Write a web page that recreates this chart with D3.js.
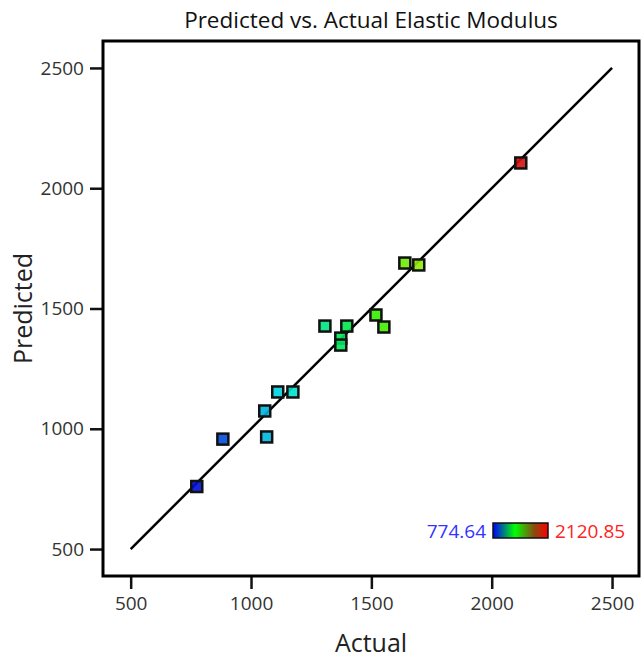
<!DOCTYPE html>
<html>
<head>
<meta charset="utf-8">
<script src="https://cdn.jsdelivr.net/npm/d3@7"></script>
<style>
  body { margin: 0; background: #fff; }
  svg text { font-family: "Open Sans", "Noto Sans", sans-serif; }
</style>
</head>
<body>
<div id="chart"></div>
<script>
// Actual vs predicted design points
const actual = [774.64, 883, 1065, 1057, 1111, 1174, 1307, 1398, 1373, 1373, 1519, 1552, 1639, 1697, 2120.85];
const predicted = [760, 957, 966, 1074, 1153, 1153, 1427, 1427, 1377, 1348, 1473, 1423, 1689, 1681, 2105];
const xTickValues = [500, 1000, 1500, 2000, 2500];
const yTickValues = [500, 1000, 1500, 2000, 2500];
const colorRange = [774.64, 2120.85];

const width = 641, height = 662,
  margin = {left: 103, top: 41, right: 2, bottom: 86};

const svg = d3.select('#chart').append('svg')
  .attr('width', width)
  .attr('height', height);

const x = d3.scaleLinear()
  .domain([385, 2612])
  .range([margin.left, width - margin.right]);

const y = d3.scaleLinear()
  .domain([388, 2612])
  .range([height - margin.bottom, margin.top]);

// point colours: blue -> green -> red by actual value
const mid = (colorRange[0] + colorRange[1]) / 2;
const pointColor = v => {
  if (v <= mid) {
    return d3.interpolateHsl('#0010d8', '#00e830')((v - colorRange[0]) / (mid - colorRange[0]));
  }
  let t = (v - mid) / (colorRange[1] - mid);
  return d3.interpolateHsl('#20f000', '#d81010')(Math.pow(t, 1.4));
};

// title
svg.append('text')
  .attr('x', (margin.left + width - margin.right) / 2)
  .attr('y', 28)
  .attr('text-anchor', 'middle')
  .attr('font-size', 22.5)
  .attr('fill', '#111')
  .text('Predicted vs. Actual Elastic Modulus');

// axes
const fmt = d3.format('d');
const xAxis = d3.axisBottom(x).tickValues(xTickValues).tickFormat(fmt).tickSize(13).tickPadding(8);
const yAxis = d3.axisLeft(y).tickValues(yTickValues).tickFormat(fmt).tickSize(13).tickPadding(6);

const gx = svg.append('g')
  .attr('transform', 'translate(0,' + (height - margin.bottom) + ')')
  .call(xAxis);
const gy = svg.append('g')
  .attr('transform', 'translate(' + margin.left + ',0)')
  .call(yAxis);

[gx, gy].forEach(g => {
  g.select('.domain').remove();
  g.selectAll('.tick line').attr('stroke', '#111').attr('stroke-width', 2.5);
  g.selectAll('.tick text')
    .attr('font-size', 19)
    .attr('fill', '#333')
    .style('font-family', '"Open Sans", "Noto Sans", sans-serif');
});

// frame
svg.append('rect')
  .attr('x', margin.left)
  .attr('y', margin.top)
  .attr('width', width - margin.right - margin.left)
  .attr('height', height - margin.bottom - margin.top)
  .attr('fill', 'none')
  .attr('stroke', '#000')
  .attr('stroke-width', 3);

// axis titles
svg.append('text')
  .attr('x', (margin.left + width - margin.right) / 2)
  .attr('y', 652)
  .attr('text-anchor', 'middle')
  .attr('font-size', 25)
  .attr('fill', '#222')
  .text('Actual');

svg.append('text')
  .attr('transform', 'translate(32,' + ((margin.top + height - margin.bottom) / 2) + ') rotate(-90)')
  .attr('text-anchor', 'middle')
  .attr('font-size', 25)
  .attr('fill', '#222')
  .text('Predicted');

// reference line
svg.append('line')
  .attr('x1', x(500)).attr('y1', y(500))
  .attr('x2', x(2500)).attr('y2', y(2500))
  .attr('stroke', '#000')
  .attr('stroke-width', 2.5);

// points
const pts = actual.map((a, i) => ({a, p: predicted[i]}));
const s = 11;
svg.append('g').selectAll('rect')
  .data(pts)
  .enter()
  .append('rect')
  .attr('x', d => x(d.a) - s / 2)
  .attr('y', d => y(d.p) - s / 2)
  .attr('width', s)
  .attr('height', s)
  .attr('fill', d => pointColor(d.a))
  .attr('fill-opacity', 0.9)
  .attr('stroke', '#111')
  .attr('stroke-width', 2.5);

// colour legend
const grad = svg.append('defs').append('linearGradient')
  .attr('id', 'cgrad');
[['0%', '#0000ff'], ['40%', '#00ff00'], ['75%', '#8a4a10'], ['100%', '#ff0000']].forEach(st => {
  grad.append('stop').attr('offset', st[0]).attr('stop-color', st[1]);
});

svg.append('rect')
  .attr('x', 493).attr('y', 523)
  .attr('width', 55).attr('height', 15)
  .attr('fill', 'url(#cgrad)')
  .attr('stroke', '#111')
  .attr('stroke-width', 1.5);

svg.append('text')
  .attr('x', 486).attr('y', 538)
  .attr('text-anchor', 'end')
  .attr('font-size', 19)
  .attr('fill', '#3333ff')
  .text(colorRange[0].toFixed(2));

svg.append('text')
  .attr('x', 555).attr('y', 538)
  .attr('font-size', 19)
  .attr('fill', '#ff2222')
  .text(colorRange[1].toFixed(2));
</script>
</body>
</html>
